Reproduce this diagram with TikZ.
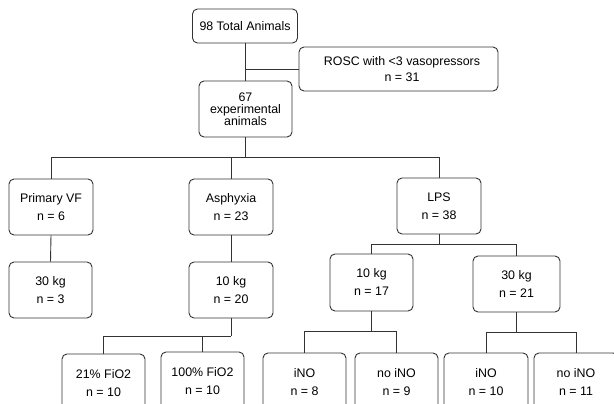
\documentclass[tikz,border=0pt]{standalone}
\usepackage{fontspec}
\setmainfont{Liberation Sans}
\begin{document}
\begin{tikzpicture}[x=1pt,y=-1pt,
  box/.style={draw=black!80, line width=0.9pt, rounded corners=5pt, fill=white,
    align=center, inner sep=0pt, minimum width=84pt, minimum height=56pt,
    font=\fontsize{12.4}{18}\selectfont},
  link/.style={draw=black!80, line width=0.9pt}]
\useasboundingbox (0,0) rectangle (614,404);
\clip (0,0) rectangle (614,404);
% top
\node[box, minimum width=105pt, minimum height=34pt] (total) at (245,26) {98 Total Animals};
\node[box, minimum width=199pt, minimum height=44pt, font=\fontsize{12.4}{16}\selectfont] (rosc) at (398.5,69) {\hspace*{7pt}ROSC with <3 vasopressors\\\hspace*{7pt}n = 31};
\node[box, minimum width=93pt, minimum height=56pt, font=\fontsize{12.4}{12}\selectfont] (exp) at (245.5,109) {67\\experimental\\animals};
% level 1
\node[box] (vf) at (51,207) {Primary VF\\n = 6};
\node[box] (asph) at (231,207) {Asphyxia\\n = 23};
\node[box] (lps) at (439,206) {LPS\\n = 38};
% level 2
\node[box, minimum width=83pt] (vfkg) at (50.5,290) {30 kg\\n = 3};
\node[box] (asphkg) at (231,290) {10 kg\\n = 20};
\node[box, minimum width=83pt, minimum height=57pt] (lpsten) at (371.5,282.5) {10 kg\\n = 17};
\node[box, minimum width=87pt] (lpsthirty) at (516.5,284) {30 kg\\n = 21};
% level 3
\node[box, minimum width=83pt, minimum height=58pt] (fioa) at (103.5,383) {21\% FiO2\\n = 10};
\node[box, minimum width=83pt, minimum height=58pt] (fiob) at (202.5,381) {100\% FiO2\\n = 10};
\node[box, minimum width=83pt, minimum height=58pt] (inoa) at (304.5,382) {iNO\\n = 8};
\node[box, minimum width=83pt, minimum height=58pt] (noinoa) at (396.5,382) {no iNO\\n = 9};
\node[box, minimum width=84pt, minimum height=58pt] (inob) at (486,382) {iNO\\n = 10};
\node[box, minimum width=84pt, minimum height=58pt] (noinob) at (576,382) {no iNO\\n = 11};
% levels
\coordinate (l1) at (0,157);
\coordinate (l2) at (0,244);
\coordinate (l3a) at (0,336);
\coordinate (l3b) at (0,331);
\coordinate (l3c) at (0,332);
% connectors
\draw[link] (total.south) -- (total.south |- exp.north);
\draw[link] (rosc.west) -- (rosc.west -| total.south);
\draw[link] (exp.south) -- (exp.south |- l1);
\draw[link] (vf.north) |- (lps.north |- l1) -- (lps.north);
\draw[link] (asph.north) -- (asph.north |- l1);
\draw[link] (vf.south) -- (vfkg.north);
\draw[link] (asph.south) -- (asphkg.north);
\draw[link] (lps.south) -- (lps.south |- l2);
\draw[link] (lpsten.north) |- (lpsthirty.north |- l2) -- (lpsthirty.north);
\draw[link] (asphkg.south) -- (asphkg.south |- l3a);
\draw[link] (fioa.north) |- (asphkg.south |- l3a);
\draw[link] (fiob.north) -- (fiob.north |- l3a);
\draw[link] (lpsten.south) -- (lpsten.south |- l3b);
\draw[link] (inoa.north) |- (noinoa.north |- l3b) -- (noinoa.north);
\draw[link] (lpsthirty.south) -- (lpsthirty.south |- l3c);
\draw[link] (inob.north) |- (noinob.north |- l3c) -- (noinob.north);
\end{tikzpicture}
\end{document}
